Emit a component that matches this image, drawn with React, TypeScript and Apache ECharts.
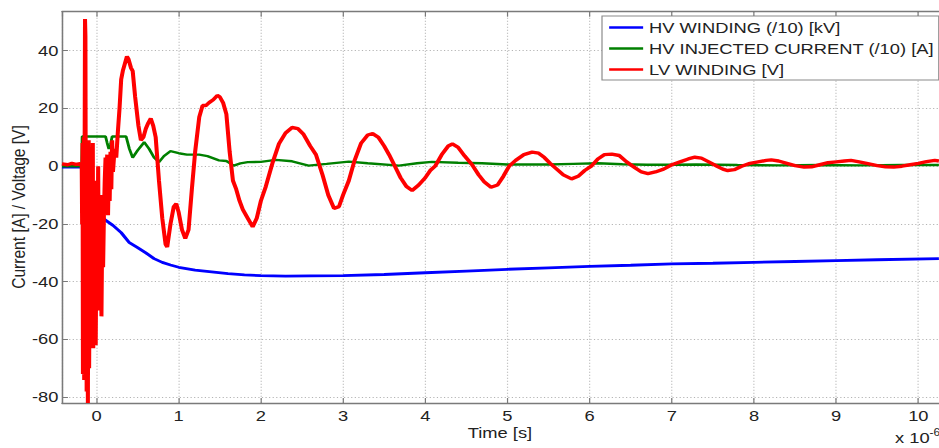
import React, { useEffect, useRef } from "react";
import * as echarts from "echarts";

// ---- data (time in µs, values as plotted) ----
const hvWinding: [number, number][] = [
  [-0.42, -0.3], [-0.3, -0.2], [-0.2, -0.3], [-0.15, -0.6], [-0.1, -4], [-0.05, -9],
  [0.0, -14], [0.05, -17], [0.1, -18.5], [0.2, -20.5], [0.3, -23], [0.4, -26.5],
  [0.5, -28.2], [0.6, -30], [0.7, -32], [0.8, -33.3], [0.9, -34.2], [1.0, -35],
  [1.2, -36], [1.4, -36.6], [1.6, -37.2], [1.8, -37.6], [2.0, -37.9], [2.3, -38.1],
  [2.6, -38.0], [3.0, -37.9], [3.5, -37.5], [4.0, -36.9], [4.5, -36.3], [5.0, -35.7],
  [5.5, -35.2], [6.0, -34.7], [6.5, -34.3], [7.0, -33.8], [7.5, -33.6], [8.0, -33.3],
  [8.5, -33.0], [9.0, -32.7], [9.5, -32.4], [10.25, -32.0],
];

const hvInjected: [number, number][] = [
  [-0.42, 0], [-0.18, 0], [-0.175, 10.3], [0.0, 10.3], [0.11, 10.3], [0.13, 8],
  [0.15, 6], [0.17, 7.5], [0.19, 10.3], [0.36, 10.3], [0.4, 6], [0.44, 3],
  [0.5, 5.5], [0.58, 8.3], [0.64, 6], [0.7, 3], [0.76, 1.4], [0.82, 3.5],
  [0.9, 5.2], [1.0, 4.5], [1.1, 4], [1.25, 4], [1.35, 3.5], [1.49, 2],
  [1.58, 1.8], [1.67, 0.2], [1.75, 1], [1.84, 1.4], [2.0, 1.5], [2.18, 2.2],
  [2.38, 1.7], [2.58, 0.2], [2.8, 0.8], [3.07, 1.6], [3.3, 1], [3.68, 0.2],
  [3.9, 1], [4.08, 1.5], [4.4, 1.2], [4.69, 1], [5.0, 0.6], [5.5, 0.6],
  [5.8, 0.8], [6.1, 1.0], [6.4, 0.7], [6.7, 0.5], [7.0, 0.5], [7.3, 0.6],
  [7.8, 0.4], [8.3, 0.3], [8.8, 0.4], [9.3, 0.3], [9.8, 0.4], [10.25, 0.4],
];

const lvWinding: [number, number][] = [
  [-0.42, 0.8], [-0.35, 0.5], [-0.3, 1.0], [-0.25, 0.6], [-0.2, 0.9], [-0.18, 0.3],
  [-0.175, -20], [-0.17, 8], [-0.165, -72], [-0.16, -40], [-0.155, 10], [-0.15, -74],
  [-0.145, 0], [-0.14, 51], [-0.135, 45], [-0.13, -30], [-0.125, -10], [-0.12, -78],
  [-0.115, 5], [-0.11, -50], [-0.105, -82], [-0.1, -20], [-0.095, 9], [-0.09, -70],
  [-0.085, -45], [-0.08, 0], [-0.075, -60], [-0.07, -25], [-0.065, 5], [-0.06, -55],
  [-0.05, -15], [-0.045, 8], [-0.04, -63], [-0.03, -30], [-0.02, -5], [-0.01, -62],
  [0.0, -20], [0.01, -40], [0.02, 0], [0.03, -50], [0.04, -25], [0.05, -10],
  [0.06, -52], [0.07, -20], [0.08, -35], [0.09, -17], [0.1, -5], [0.11, 3],
  [0.12, -10], [0.13, 4], [0.14, -17], [0.15, 0], [0.16, -12], [0.17, 5],
  [0.18, -8], [0.19, 9], [0.2, -2], [0.22, 6], [0.24, 3], [0.26, 12],
  [0.28, 20], [0.3, 30], [0.32, 33], [0.34, 35], [0.37, 38], [0.39, 37],
  [0.42, 34], [0.44, 33], [0.47, 24], [0.51, 14], [0.54, 9], [0.57, 10],
  [0.6, 13], [0.63, 15], [0.66, 16.5], [0.69, 14], [0.72, 10], [0.76, -5],
  [0.8, -18], [0.84, -27], [0.86, -28], [0.9, -20], [0.94, -14], [0.97, -13],
  [1.0, -16], [1.04, -22], [1.08, -25], [1.12, -22], [1.16, -8], [1.2, 5],
  [1.25, 17], [1.29, 21], [1.33, 21], [1.37, 22], [1.42, 23], [1.47, 24.5],
  [1.5, 24], [1.54, 22], [1.58, 18], [1.62, 5], [1.66, -5], [1.7, -8],
  [1.74, -12], [1.78, -15], [1.84, -18], [1.9, -21], [1.95, -18], [2.0, -12],
  [2.06, -7], [2.14, 1], [2.22, 7.8], [2.3, 11.5], [2.38, 13.4], [2.45, 13],
  [2.52, 11], [2.6, 7], [2.67, 4], [2.75, -3], [2.82, -10], [2.89, -14.6],
  [2.95, -14], [3.0, -10], [3.07, -5], [3.14, 2], [3.22, 8], [3.3, 10.8],
  [3.36, 11.3], [3.43, 10], [3.5, 7], [3.56, 4], [3.63, 0], [3.7, -4],
  [3.77, -7], [3.84, -8.4], [3.92, -6.5], [4.0, -4], [4.06, -1.5], [4.12, 0],
  [4.2, 4], [4.28, 7], [4.33, 7.7], [4.4, 6.5], [4.48, 3.5], [4.57, 0.5],
  [4.65, -3], [4.72, -5.5], [4.8, -7.3], [4.88, -6.5], [4.95, -3.5], [5.02, 0],
  [5.1, 2], [5.2, 4], [5.3, 4.9], [5.38, 4.5], [5.45, 3], [5.52, 1],
  [5.6, -1], [5.68, -3], [5.78, -4.4], [5.86, -3.5], [5.94, -1.5], [6.02, 0],
  [6.1, 2.5], [6.18, 4], [6.27, 4.2], [6.36, 3.7], [6.45, 1.5], [6.55, -0.5],
  [6.63, -2], [6.71, -2.6], [6.8, -2], [6.9, -1], [7.0, 0.5], [7.1, 1.5],
  [7.2, 2.5], [7.28, 3.1], [7.36, 2.8], [7.45, 1.5], [7.55, 0], [7.62, -1],
  [7.68, -1.5], [7.76, -1.2], [7.85, 0], [7.95, 1], [8.05, 1.5], [8.15, 2],
  [8.21, 2.2], [8.3, 1.8], [8.4, 1], [8.5, 0.2], [8.61, -0.3], [8.7, -0.2],
  [8.8, 0.5], [8.9, 1.2], [9.0, 1.5], [9.1, 1.8], [9.18, 2], [9.28, 1.5],
  [9.4, 0.8], [9.5, 0.2], [9.6, -0.2], [9.7, -0.3], [9.8, 0], [9.9, 0.5],
  [10.0, 1], [10.1, 1.6], [10.2, 2], [10.25, 1.8],
];

const seriesNames = ["HV WINDING (/10) [kV]", "HV INJECTED CURRENT (/10) [A]", "LV WINDING [V]"];
const seriesColors = ["#0000ff", "#008000", "#ff0000"];
const xRange = [-0.42, 10.25];
const yRange = [-82, 53.5];

// horizontal stretch of the reference picture
const S = 1.19;
const W = 939 / S;
const H = 448;
const FONT = "'Liberation Sans', Arial, Helvetica, sans-serif";

export default function App() {
  const ref = useRef<HTMLDivElement>(null);
  useEffect(() => {
    if (!ref.current) return;
    const chart = echarts.init(ref.current, null, { renderer: "svg" });
    const axisGray = "#7a7a7a";
    const option: any = {
      animation: false,
      backgroundColor: "#ffffff",
      textStyle: { fontFamily: FONT },
      grid: { left: 62 / S, right: W - 942 / S, top: 11.7, bottom: H - 403, containLabel: false },
      legend: {
        orient: "vertical",
        left: 602 / S,
        top: 16,
        data: seriesNames,
        icon: "rect",
        itemWidth: 34 / S,
        itemHeight: 2.5,
        itemGap: 0,
        padding: [1, 4, 0, 6],
        backgroundColor: "#ffffff",
        borderColor: "#8a8a8a",
        borderWidth: 1,
        borderRadius: 0,
        textStyle: { fontFamily: FONT, fontSize: 15.4, color: "#222", lineHeight: 21 },
      },
      xAxis: [
        {
          type: "value",
          min: xRange[0],
          max: xRange[1],
          splitNumber: 10,
          axisLine: { show: true, onZero: false, lineStyle: { color: axisGray, width: 1.3 } },
          axisTick: { show: true, inside: true, length: 5, lineStyle: { color: axisGray } },
          axisLabel: { showMinLabel: false, showMaxLabel: false, margin: 6, fontSize: 15.4, lineHeight: 14, color: "#222", fontFamily: FONT },
          splitLine: { show: true, lineStyle: { color: "#b4b4b4", type: [1, 2], width: 1 } },
        },
        {
          type: "value",
          position: "top",
          min: xRange[0],
          max: xRange[1],
          splitNumber: 10,
          axisLine: { show: true, onZero: false, lineStyle: { color: axisGray, width: 1.3 } },
          axisTick: { show: true, inside: true, length: 5, lineStyle: { color: axisGray } },
          axisLabel: { show: false },
          splitLine: { show: false },
        },
      ],
      yAxis: {
        type: "value",
        min: yRange[0],
        max: yRange[1],
        splitNumber: 7,
        axisLine: { show: true, onZero: false, lineStyle: { color: axisGray, width: 1.3 } },
        axisTick: { show: true, inside: true, length: 5, lineStyle: { color: axisGray } },
        axisLabel: { showMinLabel: false, showMaxLabel: false, margin: 3, fontSize: 15.4, color: "#222", fontFamily: FONT },
        splitLine: { show: true, lineStyle: { color: "#b4b4b4", type: [1, 2], width: 1 } },
      },
      series: [
        { name: seriesNames[0], type: "line", data: hvWinding, showSymbol: false, symbol: "none", lineStyle: { color: seriesColors[0], width: 2.8 }, itemStyle: { color: seriesColors[0] } },
        { name: seriesNames[1], type: "line", data: hvInjected, showSymbol: false, symbol: "none", lineStyle: { color: seriesColors[1], width: 2.4 }, itemStyle: { color: seriesColors[1] } },
        { name: seriesNames[2], type: "line", data: lvWinding, showSymbol: false, symbol: "none", lineStyle: { color: seriesColors[2], width: 3.4 }, itemStyle: { color: seriesColors[2] } },
      ],
      graphic: [
        {
          type: "text",
          x: 19 / S,
          y: 207,
          rotation: Math.PI / 2,
          style: { text: "Current [A] / Voltage [V]", fontFamily: FONT, fontSize: 15.6, fill: "#222", textAlign: "center", textVerticalAlign: "middle" },
        },
        {
          type: "text",
          x: 500 / S,
          y: 433,
          style: { text: "Time [s]", fontFamily: FONT, fontSize: 15.4, lineHeight: 14, fill: "#222", textAlign: "center", textVerticalAlign: "middle" },
        },
        {
          type: "text",
          x: 895 / S,
          y: 438,
          style: {
            text: "x 10{sup|-6}",
            fontFamily: FONT,
            fontSize: 15.4,
            fill: "#222",
            textAlign: "left",
            textVerticalAlign: "middle",
            rich: { sup: { fontSize: 10, fontFamily: FONT, fill: "#222", padding: [0, 0, 12, 0] } },
          },
        },
      ],
    };
    chart.setOption(option);
    return () => chart.dispose();
  }, []);

  return (
    <div style={{ position: "absolute", left: 0, top: 0, width: 939, height: 448, overflow: "hidden", background: "#fff" }}>
      <div ref={ref} style={{ width: W, height: H, transform: `scaleX(${S})`, transformOrigin: "0 0" }} />
    </div>
  );
}
